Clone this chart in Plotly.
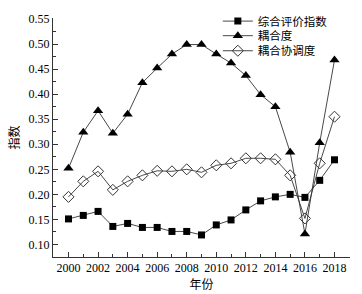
import plotly.graph_objects as go

years = list(range(2000, 2019))
index_vals = [0.151, 0.158, 0.166, 0.136, 0.142, 0.134, 0.134, 0.126, 0.126, 0.119,
              0.139, 0.149, 0.169, 0.187, 0.195, 0.200, 0.194, 0.228, 0.269]
coupling = [0.252, 0.324, 0.367, 0.322, 0.360, 0.423, 0.452, 0.480, 0.499, 0.499,
            0.480, 0.462, 0.437, 0.399, 0.375, 0.284, 0.121, 0.303, 0.468]
coordination = [0.195, 0.226, 0.246, 0.209, 0.226, 0.238, 0.247, 0.246, 0.250, 0.244,
                0.258, 0.262, 0.272, 0.272, 0.270, 0.238, 0.152, 0.262, 0.355]
names = ["综合评价指数", "耦合度", "耦合协调度"]
y_ticks = [0.10, 0.15, 0.20, 0.25, 0.30, 0.35, 0.40, 0.45, 0.50, 0.55]
x_ticks = list(range(2000, 2019, 2))

line_style = dict(color="#333333", width=0.9)
fig = go.Figure()
fig.add_trace(go.Scatter(x=years, y=index_vals, name=names[0], mode="lines+markers",
                         line=line_style, legend="legend",
                         marker=dict(symbol="square", size=7, color="black")))
fig.add_trace(go.Scatter(x=years, y=coupling, name=names[1], mode="lines+markers",
                         line=line_style, legend="legend2",
                         marker=dict(symbol="triangle-up", size=9, color="black")))
fig.add_trace(go.Scatter(x=years, y=coordination, name=names[2], mode="lines+markers",
                         line=line_style, legend="legend3",
                         marker=dict(symbol="diamond-open", size=8.5, color="#333333",
                                     line=dict(width=1))))

serif = "Liberation Serif"
cjk = "Noto Sans CJK SC"


def leg(y):
    return dict(x=0.555, y=y, xanchor="left", yanchor="middle",
                font=dict(family=cjk, size=11.5, color="black"),
                bgcolor="rgba(0,0,0,0)", itemwidth=30)


fig.update_layout(
    width=362, height=294,
    margin=dict(l=53, r=12, t=18, b=37, autoexpand=False),
    paper_bgcolor="white", plot_bgcolor="white",
    showlegend=True, hovermode=False,
    legend=leg(0.987), legend2=leg(0.926), legend3=leg(0.863),
    xaxis=dict(range=[1998.95, 2019.05], tickvals=x_ticks, showgrid=False, zeroline=False,
               showline=True, linecolor="#333", linewidth=1,
               ticks="inside", ticklen=5, tickcolor="#333",
               minor=dict(dtick=1, tick0=2000, ticks="inside", ticklen=3, tickcolor="#333"),
               tickfont=dict(family=serif, size=12, color="black"),
               title=dict(text="年份", font=dict(family=cjk, size=12, color="black"), standoff=4)),
    yaxis=dict(range=[0.075, 0.552], tickvals=y_ticks, tickformat=".2f", showgrid=False,
               zeroline=False, showline=True, linecolor="#333", linewidth=1,
               ticks="inside", ticklen=5, tickcolor="#333",
               minor=dict(dtick=0.025, tick0=0.1, ticks="inside", ticklen=3, tickcolor="#333"),
               tickfont=dict(family=serif, size=12, color="black"),
               title=dict(text="指数", font=dict(family=cjk, size=12, color="black"), standoff=6)),
)
fig.write_html("out.html", config={"displayModeBar": False},
               post_script="document.body.style.margin='0';")
